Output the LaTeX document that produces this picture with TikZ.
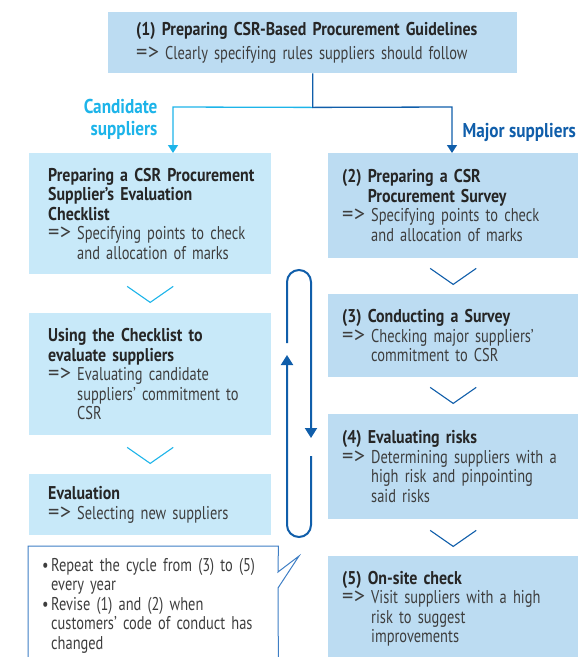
\documentclass[tikz,border=0pt]{standalone}
\usepackage{fontspec}
\usepackage{graphicx}
\setmainfont{PT Sans}[FakeStretch=0.78, BoldFeatures={FakeStretch=0.86}]
\usetikzlibrary{arrows.meta,calc}
\definecolor{boxR}{RGB}{188,220,242}
\definecolor{boxL}{RGB}{200,233,249}
\definecolor{cyanC}{RGB}{29,180,233}
\definecolor{blueD}{RGB}{16,94,170}
\definecolor{noteB}{RGB}{62,126,196}
\definecolor{txtB}{RGB}{38,38,38}
\definecolor{txtN}{RGB}{62,62,62}
\newlength\arwd \setlength\arwd{29pt}
\newcommand\arw{\makebox[\arwd][l]{\scalebox{1.55}[1.2]{=\kern0.2pt>}}}
\newcommand\ind{\hspace*{\arwd}}
\newcommand\hd[1]{{\bfseries\color{txtB}#1}}
\newcommand\bul{\makebox[9pt][l]{\textbullet}}
\newcommand\mb[1]{\mbox{#1}}
\begin{document}
\begin{tikzpicture}[x=1pt,y=-1pt,
  box/.style={anchor=north west, inner ysep=0pt, align=left,
    font=\fontsize{18.5}{19.5}\selectfont, text=txtN},
  lbox/.style={box, fill=boxL, inner xsep=19pt, text width=204pt},
  rbox/.style={box, fill=boxR, inner xsep=14pt, text width=222pt},
  topbox/.style={box, fill=boxR, inner xsep=28pt, text width=353pt},
  notebox/.style={box, inner xsep=14pt, text width=222pt},
  conn/.style={line width=1.3pt, -{Triangle[width=10pt,length=8pt]}},
  chevL/.style={cyanC, line width=1.1pt},
  chevR/.style={blueD, line width=1.1pt},
  cyclearrow/.style={blueD, line width=2pt, -{Triangle[width=12pt,length=10pt]}},
  lab/.style={font=\bfseries\fontsize{20}{22}\selectfont}
]
\useasboundingbox (0,0) rectangle (579,657);
\clip (0,0) rectangle (579,657);

% boxes
\node[topbox, minimum height=61pt] (top) at (108,12)
  {\hd{\mb{(1) Preparing CSR-Based Procurement Guidelines}}\\[4pt]
   \mb{\arw Clearly specifying rules suppliers should follow}};

\node[lbox, minimum height=121pt] (L1) at (29,153)
  {\hd{\mb{Preparing a CSR Procurement}\\\mb{Supplier's Evaluation}\\Checklist}\\
   \mb{\arw Specifying points to check}\\
   \mb{\ind and allocation of marks}};
\node[lbox, minimum height=122pt] (L2) at (29,313)
  {\hd{\mb{Using the Checklist to}\\\mb{evaluate suppliers}}\\
   \mb{\arw Evaluating candidate}\\
   \mb{\ind suppliers' commitment to}\\
   \mb{\ind CSR}};
\node[lbox, minimum height=61pt] (L3) at (29,474)
  {\hd{Evaluation}\\
   \mb{\arw Selecting new suppliers}};

\node[rbox, minimum height=105pt] (R2) at (328,153)
  {\hd{\mb{(2) Preparing a CSR}\\\mb{\hphantom{(2) }Procurement Survey}}\\
   \mb{\arw Specifying points to check}\\
   \mb{\ind and allocation of marks}};
\node[rbox, minimum height=83pt] (R3) at (328,294)
  {\hd{\mb{(3) Conducting a Survey}}\\
   \mb{\arw Checking major suppliers'}\\
   \mb{\ind commitment to CSR}};
\node[rbox, minimum height=105pt] (R4) at (328,414)
  {\hd{\mb{(4) Evaluating risks}}\\
   \mb{\arw Determining suppliers with a}\\
   \mb{\ind high risk and pinpointing}\\
   \mb{\ind said risks}};
\node[rbox, minimum height=105pt] (R5) at (328,556)
  {\hd{\mb{(5) On-site check}}\\
   \mb{\arw Visit suppliers with a high}\\
   \mb{\ind risk to suggest}\\
   \mb{\ind improvements}};

% note with callout
\node[notebox, minimum height=119pt] (note) at (28,546)
  {\mb{\bul Repeat the cycle from (3) to (5)}\\
   \mb{\hspace*{9pt}every year}\\
   \mb{\bul Revise (1) and (2) when}\\
   \mb{\hspace*{9pt}customers' code of conduct has}\\
   \mb{\hspace*{9pt}changed}};
\coordinate (pa) at (278,572);
\coordinate (ptip) at (299,556);
\coordinate (pb) at (278,588);
\draw[noteB, line width=1pt] (note.north west) -- (note.north east) -- (pa)
  -- (ptip) -- (pb) -- (note.south east) -- (note.south west) -- cycle;

% labels
\node[lab, anchor=east, align=right, text=cyanC] (cand) at (161,119) {Candidate\\suppliers};
\node[lab, anchor=west, text=blueD] (maj) at (459,132) {Major suppliers};

% connectors from top box
\coordinate (split) at ($(top.south)+(0,34)$);
\coordinate (cL) at (173,107);
\coordinate (cR) at (452,107);
\draw[conn, cyanC] (split) -- (cL) -- (cL |- L1.north);
\draw[conn, blueD] (top.south) -- (split) -- (cR) -- (cR |- R2.north);

% chevrons
\draw[chevL] ($(L1.south)+(-23,12)$) -- ($(L1.south)+(0,28)$) -- ($(L1.south)+(23,12)$);
\draw[chevL] ($(L2.south)+(-23,12)$) -- ($(L2.south)+(0,28)$) -- ($(L2.south)+(23,12)$);
\draw[chevR] ($(R2.south)+(-23,10)$) -- ($(R2.south)+(0,26)$) -- ($(R2.south)+(23,10)$);
\draw[chevR] ($(R3.south)+(-23,10)$) -- ($(R3.south)+(0,26)$) -- ($(R3.south)+(23,10)$);
\draw[chevR] ($(R4.south)+(-23,11)$) -- ($(R4.south)+(0,27)$) -- ($(R4.south)+(23,11)$);

% cycle loop
\coordinate (lpA) at (287,343);
\coordinate (lpB) at (287,282);
\coordinate (lpD) at (311,438);
\coordinate (lpE) at (311,456);
\coordinate (lpF) at (311,525);
\coordinate (lpG) at (287,355);
\draw[cyclearrow] (lpA) -- (lpB) arc[start angle=180, end angle=360, radius=12] -- (lpD);
\draw[cyclearrow] (lpE) -- (lpF) arc[start angle=0, end angle=180, radius=12] -- (lpG);
\end{tikzpicture}
\end{document}
